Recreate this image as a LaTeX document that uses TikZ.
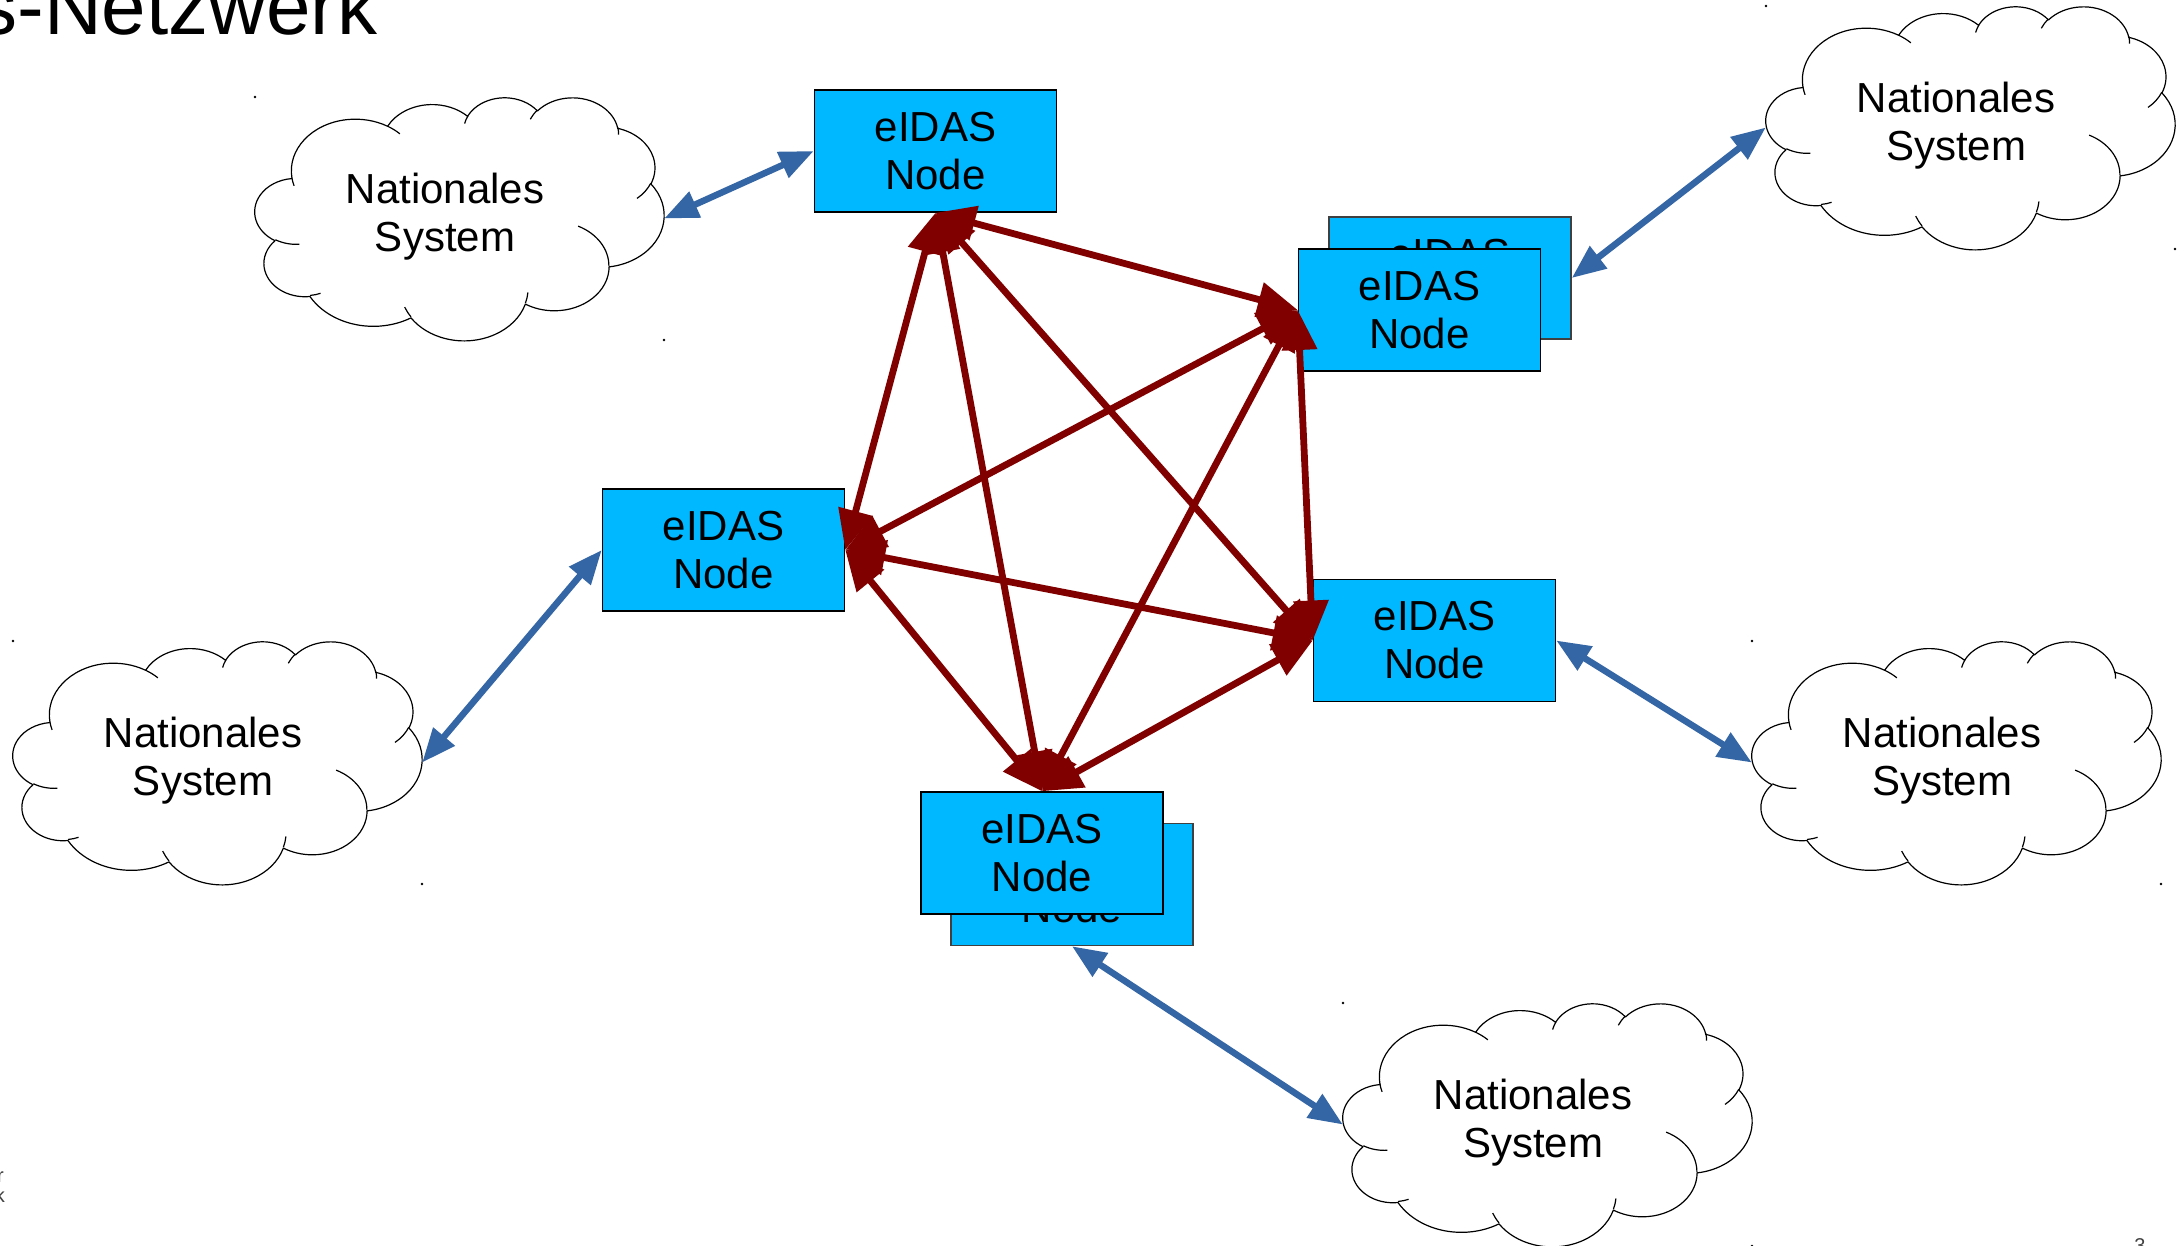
\documentclass[tikz,border=0pt]{standalone}
\usepackage{fontspec}
\setmainfont{Liberation Sans}
\usetikzlibrary{arrows.meta}
\definecolor{boxfill}{HTML}{00B8FF}
\definecolor{rarrow}{HTML}{800000}
\definecolor{barrow}{HTML}{3465A4}
\makeatletter
\newcommand\cldcalc[5]{%
  \pgfmathsetmacro\cld@e{(#4)+(#5)}%
  \pgfmathsetmacro\cld@ts{atan2((#2)*sin(#4),(#3)*cos(#4))}%
  \pgfmathsetmacro\cld@te{atan2((#2)*sin(\cld@e),(#3)*cos(\cld@e))}%
  \pgfmathsetmacro\cld@d{(\cld@te)-(\cld@ts)}%
  \pgfmathsetmacro\cld@d{(\cld@d)-360*round(((\cld@d)-(#5))/360)}%
  \expandafter\xdef\csname cldS#1\endcsname{\cld@ts}%
  \expandafter\xdef\csname cldD#1\endcsname{\cld@d}%
}
\makeatother
% outer outline arcs
\cldcalc{oa}{67.53}{91.90}{-190.4875}{123.7805}
\cldcalc{ob}{53.33}{72.67}{-144.1024}{89.9452}
\cldcalc{oc}{43.65}{59.45}{-145.8079}{99.7230}
\cldcalc{od}{48.57}{65.95}{-130.9861}{117.2417}
\cldcalc{oe}{53.33}{72.73}{-78.7089}{109.0269}
\cldcalc{of}{67.75}{92.20}{-46.2673}{130.2690}
\cldcalc{og}{57.85}{78.67}{0.6250}{114.0333}
\cldcalc{oh}{67.52}{92.15}{22.4516}{115.1726}
\cldcalc{oi}{77.20}{105.43}{66.2426}{75.7110}
\cldcalc{oj}{43.60}{59.18}{-274.9421}{146.7356}
\cldcalc{ok}{43.45}{59.45}{-246.8285}{152.5189}
% inner crease arcs
\cldcalc{ia}{43.45}{59.45}{86.742}{26.4295}
\cldcalc{ib}{43.60}{59.18}{73.6105}{11.4475}
\cldcalc{ic}{67.52}{92.15}{137.6242}{14.0811}
\cldcalc{id}{67.52}{92.15}{6.4533}{15.9984}
\cldcalc{ie}{57.85}{78.67}{-70.2924}{70.9174}
\cldcalc{if}{53.33}{72.73}{30.3180}{27.7515}
\cldcalc{ig}{48.57}{65.95}{-13.7443}{14.8589}
\cldcalc{ih}{48.57}{65.95}{-149.1815}{18.1954}
\cldcalc{ii}{43.65}{59.45}{-163.4943}{17.6864}
\cldcalc{ij}{67.53}{91.90}{-66.7070}{12.3194}
\cldcalc{ik}{67.53}{91.90}{157.6544}{11.8582}
\newcommand\cloudouter{(39.00,143.70)
  arc[start angle=\cldSoa, delta angle=\cldDoa, x radius=67.53, y radius=91.90]
  arc[start angle=\cldSob, delta angle=\cldDob, x radius=53.33, y radius=72.67]
  arc[start angle=\cldSoc, delta angle=\cldDoc, x radius=43.65, y radius=59.45]
  arc[start angle=\cldSod, delta angle=\cldDod, x radius=48.57, y radius=65.95]
  arc[start angle=\cldSoe, delta angle=\cldDoe, x radius=53.33, y radius=72.73]
  arc[start angle=\cldSof, delta angle=\cldDof, x radius=67.75, y radius=92.20]
  arc[start angle=\cldSog, delta angle=\cldDog, x radius=57.85, y radius=78.67]
  arc[start angle=\cldSoh, delta angle=\cldDoh, x radius=67.52, y radius=92.15]
  arc[start angle=\cldSoi, delta angle=\cldDoi, x radius=77.20, y radius=105.43]
  arc[start angle=\cldSoj, delta angle=\cldDoj, x radius=43.60, y radius=59.18]
  arc[start angle=\cldSok, delta angle=\cldDok, x radius=43.45, y radius=59.45]
  -- cycle}
\newcommand\cloudcreases{
  (46.93,261.77) arc[start angle=\cldSia, delta angle=\cldDia, x radius=43.45, y radius=59.45]
  (69.28,348.99) arc[start angle=\cldSib, delta angle=\cldDib, x radius=43.60, y radius=59.18]
  (164.78,390.90) arc[start angle=\cldSic, delta angle=\cldDic, x radius=67.52, y radius=92.15]
  (288.27,347.51) arc[start angle=\cldSid, delta angle=\cldDid, x radius=67.52, y radius=92.15]
  (341.29,229.54) arc[start angle=\cldSie, delta angle=\cldDie, x radius=57.85, y radius=78.67]
  (417.98,153.54) arc[start angle=\cldSif, delta angle=\cldDif, x radius=53.33, y radius=72.73]
  (383.24,54.26) arc[start angle=\cldSig, delta angle=\cldDig, x radius=48.57, y radius=65.95]
  (290.78,39.52) arc[start angle=\cldSih, delta angle=\cldDih, x radius=48.57, y radius=65.95]
  (221.41,47.20) arc[start angle=\cldSii, delta angle=\cldDii, x radius=43.65, y radius=59.45]
  (140.00,51.92) arc[start angle=\cldSij, delta angle=\cldDij, x radius=67.53, y radius=91.90]
  (41.27,157.89) arc[start angle=\cldSik, delta angle=\cldDik, x radius=67.53, y radius=91.90]}
\newcommand\cloudat[3]{%
  \begin{scope}[shift={(#2,#3)}, x=0.94676pt, y=-0.5625pt]
    \draw[cloudline, fill=white] \cloudouter;
    \draw[cloudline] \cloudcreases;
  \end{scope}
  \node[cframe] (#1) at ({#2+204.5},{#3+121.5}) {};
  \node[cloudtext] (#1t) at ({#2+190},{#3+120}) {Nationales\\System};
  \fill (#2,#3) circle (1.3);
  \fill ({#2+409},{#3+243}) circle (1.3);
}
\begin{document}
\begin{tikzpicture}[x=1pt,y=-1pt,
  box/.style={draw=black, line width=1.5pt, fill=boxfill, minimum width=242pt, minimum height=122pt, inner sep=0pt, align=center, font=\fontsize{42}{48}\selectfont},
  backbox/.style={box, draw=black!75},
  cframe/.style={minimum width=409pt, minimum height=243pt, inner sep=0pt},
  cloudtext/.style={align=center, font=\fontsize{42}{48}\selectfont, inner sep=0pt},
  cloudline/.style={draw=black, line width=1.2pt, line join=round},
  redarr/.style={draw=rarrow, line width=6.8pt, >={Triangle[length=40pt,width=34pt]}, <->},
  bluearr/.style={draw=barrow, line width=6.5pt, >={Triangle[length=34pt,width=27pt]}, <->},
  smalltext/.style={inner sep=0pt, text=black!75, font=\fontsize{20}{24}\selectfont}]
\useasboundingbox (0,0) rectangle (2184,1245);

% title and fragments
\node[anchor=base west, inner sep=0pt, font=\fontsize{80}{96}\selectfont] (title) at (-22.6,34) {s-Netzwerk};
\node[smalltext, anchor=base east] (fr) at (4,1182) {r};
\node[smalltext, anchor=base east] (fk) at (5,1202) {k};
\node[smalltext, anchor=base] (pnum) at (2140,1252) {3};

% clouds
\cloudat{c1}{255}{97}
\cloudat{c2}{1766}{6}
\cloudat{c3}{13}{641}
\cloudat{c4}{1752}{641}
\cloudat{c5}{1343}{1003}

% boxes
\node[backbox] (RUb) at (1450,278) {eIDAS\\Node};
\node[backbox] (Bb) at (1072,884.5) {eIDAS\\Node};
\node[box] (T) at (935.5,151) {eIDAS\\Node};
\node[box] (RU) at (1419.5,310) {eIDAS\\Node};
\node[box] (L) at (723.5,550) {eIDAS\\Node};
\node[box] (RL) at (1434.5,640.5) {eIDAS\\Node};
\node[box] (B) at (1042,853) {eIDAS\\Node};

% red mesh
\draw[redarr] (T.south) -- (RU.west);
\draw[redarr] (T.south) -- (L.east);
\draw[redarr] (T.south) -- (RL.west);
\draw[redarr] (T.south) -- (B.north);
\draw[redarr] (RU.west) -- (L.east);
\draw[redarr] (RU.west) -- (RL.west);
\draw[redarr] (RU.west) -- (B.north);
\draw[redarr] (L.east) -- (RL.west);
\draw[redarr] (L.east) -- (B.north);
\draw[redarr] (RL.west) -- (B.north);

% blue links
\draw[bluearr] (c1.east) -- (T.west);
\draw[bluearr] (RUb.east) -- (c2.west);
\draw[bluearr] (c3.east) -- (L.west);
\draw[bluearr] (RL.east) -- (c4.west);
\draw[bluearr] (Bb.south) -- (c5.west);
\end{tikzpicture}
\end{document}
